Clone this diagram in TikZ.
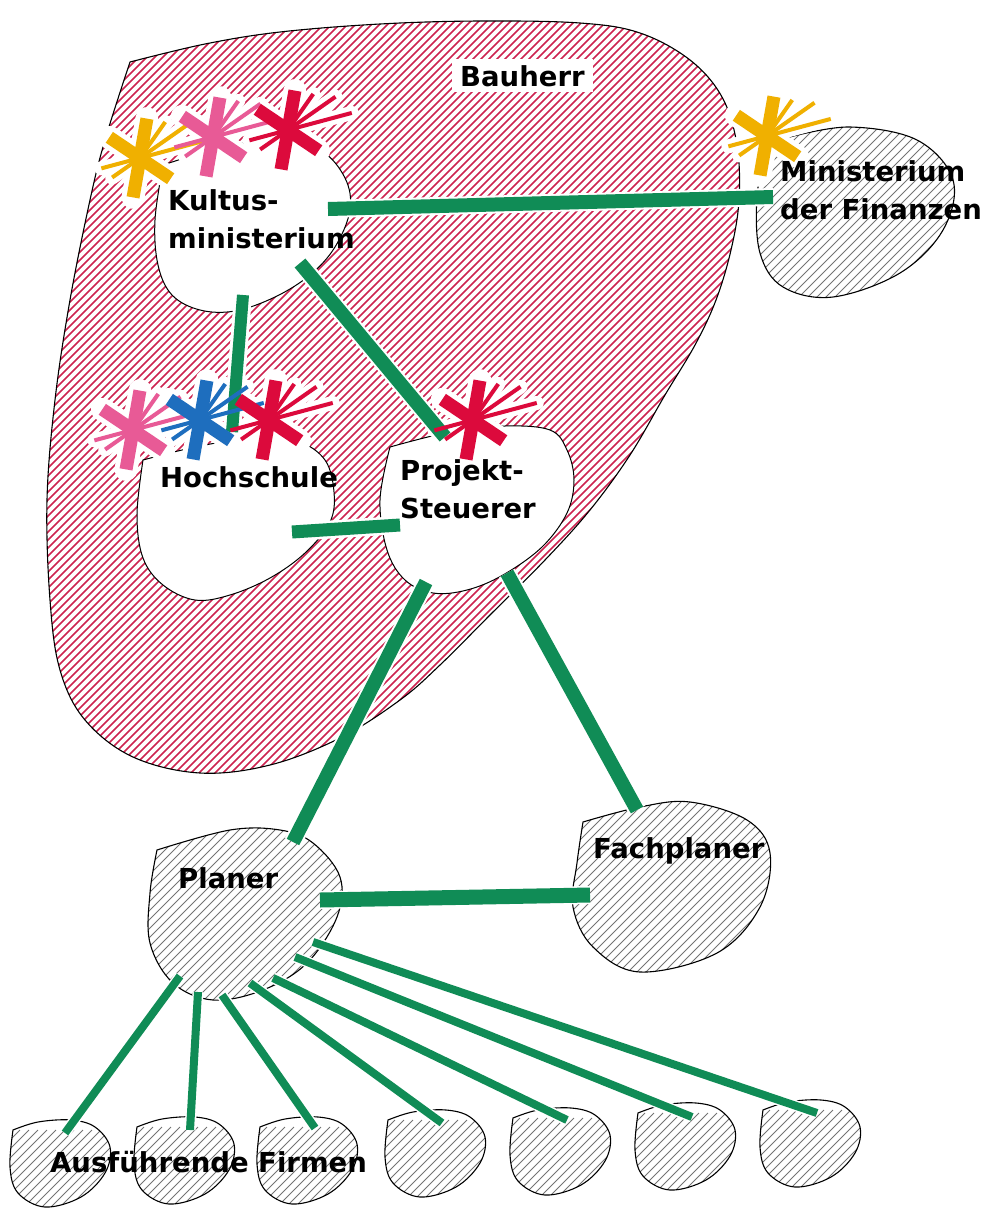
\documentclass[tikz,border=0pt]{standalone}
\usepackage{fontspec}
\setmainfont{DejaVu Sans}

\definecolor{hatchred}{RGB}{205,35,80}
\definecolor{hatchgray}{RGB}{115,115,115}
\definecolor{linkgreen}{RGB}{16,140,86}
\definecolor{sunyellow}{RGB}{240,176,0}
\definecolor{rosepink}{RGB}{232,90,150}
\definecolor{deepred}{RGB}{220,10,60}
\definecolor{skyblue}{RGB}{30,110,190}

\tikzset{
  outline/.style={draw=black, line width=1.1pt},
  amt/.style={draw=black, line width=1pt, fill=white},
  redstripe/.style={draw=hatchred, line width=1.5pt},
  graystripe/.style={draw=hatchgray, line width=1pt},
  link/.style={draw=linkgreen, line width=14pt, preaction={draw=white, line width=18pt}},
  sublink/.style={draw=linkgreen, line width=8pt, preaction={draw=white, line width=11pt}},
  label/.style={font=\bfseries\fontsize{27.5}{38}\selectfont, align=left, anchor=base west, inner sep=0pt},
}

% hatched blob: coordinates, stripe style, gap, number of stripes
\newcommand{\hatchblob}[4]{%
  \begin{scope}
    \clip plot[smooth, tension=0.6] coordinates {#1} -- cycle;
    \foreach \n in {0,...,#4}
      \draw[#2] (\n*#3-1320,1300) -- ++(1300,-1300);
  \end{scope}
  \draw[outline] plot[smooth, tension=0.6] coordinates {#1} -- cycle;}

% asterisk: [extra width] centre x, centre y, style
\newcommand{\splash}[4][0pt]{%
  \begin{scope}[shift={(#2,#3)}, yscale=-1, #4]
    \foreach \a/\r in {80/40, 146/37}
      \draw[line width=13pt+#1] (\a:\r) -- (\a+180:\r);
    \foreach \a/\r in {15/66, 35/58, 55/44, 195/40, 215/34}
      \draw[line width=4pt+#1] (0,0) -- (\a:\r);
  \end{scope}}

\begin{document}
\begin{tikzpicture}[x=1pt, y=-1pt]
\useasboundingbox (0,0) rectangle (985,1208);

% Bauherr
\hatchblob{(130,62) (205,44) (280,32) (380,24) (480,21)
  (580,23) (640,33) (690,60) (722,97) (737,145) (739,200) (731,250) (716,300) (695,345)
  (665,395) (630,455) (590,510) (545,560) (490,615) (440,665) (400,700) (340,738) (270,765)
  (200,773) (133,757) (85,720) (60,670) (50,600) (47,500) (55,400) (70,300) (90,200)
  (105,140) (130,62)}{redstripe}{8}{280}

\draw[amt] plot[smooth, tension=0.6] coordinates {(163,165) (220,148) (275,140) (320,150)
  (345,178) (350,210) (335,247) (310,275) (275,297) (235,311) (200,310) (172,295) (158,265)
  (155,220) (163,165)} -- cycle;
\draw[amt] plot[smooth, tension=0.6] coordinates {(143,460) (200,446) (260,437) (298,441)
  (325,460) (334,492) (330,522) (305,553) (270,578) (230,595) (195,600) (163,585) (143,558)
  (137,515) (143,460)} -- cycle;
\draw[amt] plot[smooth, tension=0.6] coordinates {(390,447) (450,432) (505,426) (550,430)
  (567,450) (574,480) (567,513) (542,547) (503,575) (467,590) (433,593) (405,580) (387,550)
  (380,500) (390,447)} -- cycle;

% outside
\hatchblob{(790,137) (850,127) (917,140) (953,180)
  (943,230) (900,273) (833,297) (783,287) (760,253) (757,197) (767,157) (790,137)}{graystripe}{9}{250}
\hatchblob{(583,822) (640,807) (690,802) (747,820)
  (770,853) (760,907) (717,953) (640,972) (593,947) (573,907) (577,863) (583,822)}{graystripe}{9}{250}
\hatchblob{(157,850) (230,830) (280,830) (313,843)
  (340,877) (337,917) (307,963) (263,990) (213,1000) (173,983) (150,943) (150,893)
  (157,850)}{graystripe}{9}{250}

\foreach \x/\y in {13/1130, 137/1127, 260/1127, 388/1120, 513/1118, 638/1113, 763/1110}
{
\begin{scope}[shift={(\x,\y)}]
\hatchblob{(0,0) (25,-8) (58,-10) (82,-3) (97,17)
  (92,43) (68,67) (32,77) (5,63) (-3,37) (0,0)}{graystripe}{9}{25}
\end{scope}
}

% link ends
\coordinate (kult-r) at (328,209);
\coordinate (kult-b) at (243,295);
\coordinate (kult-br) at (300,263);
\coordinate (mdf-l) at (773,197);
\coordinate (hoch-t) at (232,432);
\coordinate (hoch-r) at (292,532);
\coordinate (proj-t) at (445,437);
\coordinate (proj-l) at (400,525);
\coordinate (proj-bl) at (426,582);
\coordinate (proj-br) at (507,573);
\coordinate (plan-t) at (293,842);
\coordinate (plan-r) at (320,900);
\coordinate (fach-t) at (637,810);
\coordinate (fach-l) at (590,895);

\foreach \x/\y [count=\i] in {180/976, 198/992, 222/995, 250/983, 273/978, 295/957, 313/942}
  \coordinate (plan-\i) at (\x,\y);
\foreach \x/\y [count=\i] in {65/1133, 190/1130, 315/1128, 442/1123, 567/1120, 692/1117, 817/1113}
  \coordinate (firma-\i) at (\x,\y);

% white round the asterisks
\foreach \x/\y in {140/158, 213/137, 288/130, 767/136, 133/430, 200/420, 269/420, 473/420}
  \splash[10pt]{\x}{\y}{draw=white, line cap=round};

\draw[link] (kult-r) -- (mdf-l);
\draw[link, line width=12pt] (kult-b) -- (hoch-t);
\draw[link] (kult-br) -- (proj-t);
\draw[link, line width=13pt] (hoch-r) -- (proj-l);
\draw[link] (proj-bl) -- (plan-t);
\draw[link] (proj-br) -- (fach-t);
\draw[link, line width=15pt] (plan-r) -- (fach-l);

\foreach \i in {1,...,7}
  \draw[sublink] (plan-\i) -- (firma-\i);

\splash{140}{158}{draw=sunyellow}
\splash{213}{137}{draw=rosepink}
\splash{288}{130}{draw=deepred}
\splash{767}{136}{draw=sunyellow}
\splash{133}{430}{draw=rosepink}
\splash{200}{420}{draw=skyblue}
\splash{269}{420}{draw=deepred}
\splash{473}{420}{draw=deepred}

\node[label, fill=white, inner xsep=8pt, inner ysep=6pt] (bauherr) at (452,86) {Bauherr};
\node[label] (kultus) at (168,248) {Kultus-\\ministerium};
\node[label] (finanzen) at (780,219) {Ministerium\\der Finanzen};
\node[label] (hochschule) at (160,487) {Hochschule};
\node[label] (projekt) at (400,518) {Projekt-\\Steuerer};
\node[label] (planer) at (178,888) {Planer};
\node[label] (fachplaner) at (593,858) {Fachplaner};
\node[label] (firmen) at (50,1172) {Ausführende Firmen};
\end{tikzpicture}
\end{document}
